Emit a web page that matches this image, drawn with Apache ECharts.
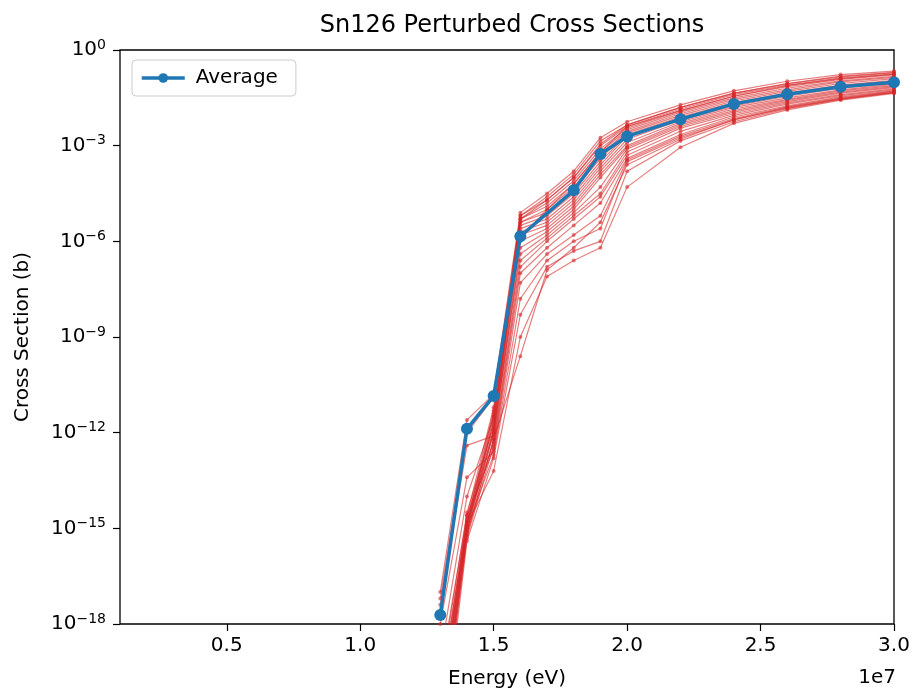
<!DOCTYPE html>
<html>
<head>
<meta charset="utf-8">
<script src="https://cdn.jsdelivr.net/npm/echarts@6/dist/echarts.min.js"></script>
<style>
  html, body { margin: 0; padding: 0; background: #fff; }
  #chart { width: 914px; height: 694px; }
</style>
</head>
<body>
<div id="chart"></div>
<script>
// energies (eV) of every perturbed curve
var energies = [1.3e7, 1.4e7, 1.5e7, 1.6e7, 1.7e7, 1.8e7, 1.9e7, 2.0e7, 2.2e7, 2.4e7, 2.6e7, 2.8e7, 3.0e7];
// log10 of cross section (b) for each perturbed curve
var perturbedLog10 = [
  [-17.0, -11.6, -10.8, -5.1, -4.5, -3.8, -2.75, -2.25, -1.72, -1.28, -0.98, -0.77, -0.66],
  [-17.2, -12.0, -10.9, -5.2, -4.6, -3.9, -2.85, -2.35, -1.80, -1.35, -1.05, -0.82, -0.70],
  [-19.5, -14.6, -11.2, -5.2, -4.7, -4.0, -3.0, -2.40, -1.85, -1.40, -1.10, -0.88, -0.75],
  [-20.0, -14.8, -11.3, -5.3, -4.8, -4.1, -3.1, -2.45, -1.90, -1.45, -1.15, -0.92, -0.78],
  [-20.5, -14.9, -11.4, -5.3, -4.9, -4.2, -3.2, -2.50, -1.95, -1.50, -1.20, -0.97, -0.83],
  [-21.0, -15.0, -11.5, -5.4, -5.0, -4.3, -3.3, -2.55, -2.00, -1.55, -1.25, -1.00, -0.86],
  [-21.5, -15.1, -11.6, -5.4, -5.1, -4.4, -3.4, -2.60, -2.05, -1.60, -1.30, -1.05, -0.90],
  [-20.2, -14.7, -11.7, -5.5, -5.2, -4.5, -3.5, -2.65, -2.10, -1.65, -1.35, -1.10, -0.95],
  [-19.8, -14.5, -11.8, -5.6, -5.3, -4.6, -3.6, -2.70, -2.15, -1.70, -1.40, -1.15, -1.00],
  [-21.2, -15.0, -11.9, -5.7, -5.4, -4.7, -3.7, -2.80, -2.20, -1.75, -1.45, -1.20, -1.05],
  [-20.8, -14.9, -12.0, -5.8, -5.5, -4.8, -3.8, -2.90, -2.25, -1.80, -1.50, -1.25, -1.08],
  [-17.4, -12.4, -12.1, -6.0, -5.6, -4.9, -3.9, -3.00, -2.30, -1.85, -1.55, -1.28, -1.12],
  [-22.0, -15.2, -12.2, -6.2, -5.7, -5.0, -4.0, -3.05, -2.35, -1.90, -1.58, -1.32, -1.15],
  [-21.6, -15.1, -12.0, -6.4, -5.8, -5.1, -4.3, -3.10, -2.40, -1.95, -1.62, -1.35, -1.18],
  [-20.6, -14.8, -12.3, -6.6, -5.9, -5.2, -4.5, -3.20, -2.45, -2.00, -1.66, -1.40, -1.22],
  [-21.8, -15.3, -12.4, -6.8, -6.0, -5.3, -4.6, -3.30, -2.55, -2.05, -1.70, -1.43, -1.25],
  [-20.4, -14.6, -12.5, -7.0, -6.2, -5.5, -4.8, -3.40, -2.65, -2.10, -1.75, -1.47, -1.28],
  [-18.0, -13.4, -12.6, -7.3, -6.4, -5.8, -5.2, -3.45, -2.70, -2.15, -1.78, -1.50, -1.30],
  [-21.3, -15.0, -12.7, -7.8, -6.6, -6.0, -5.6, -3.50, -2.75, -2.20, -1.80, -1.52, -1.32],
  [-22.5, -15.4, -12.8, -8.3, -6.8, -6.3, -6.0, -3.80, -2.85, -2.25, -1.84, -1.55, -1.34],
  [-20.9, -14.9, -13.2, -9.0, -7.1, -6.6, -6.2, -4.30, -3.05, -2.30, -1.88, -1.57, -1.36],
  [-21.4, -15.2, -12.2, -9.6, -6.9, -6.2, -5.4, -3.60, -2.80, -2.18, -1.82, -1.53, -1.33],
  [-19.0, -14.0, -11.5, -5.9, -5.0, -4.2, -3.2, -2.40, -1.90, -1.45, -1.12, -0.90, -0.76],
  [-20.7, -14.8, -11.9, -5.3, -4.7, -4.0, -2.95, -2.35, -1.80, -1.36, -1.06, -0.84, -0.72]
];
// average curve (no point at 1.7e7)
var avgEnergies = [1.3e7, 1.4e7, 1.5e7, 1.6e7, 1.8e7, 1.9e7, 2.0e7, 2.2e7, 2.4e7, 2.6e7, 2.8e7, 3.0e7];
var avgLog10 = [-17.72, -11.88, -10.85, -5.84, -4.40, -3.26, -2.71, -2.17, -1.69, -1.39, -1.15, -1.01];
var xTicks = [0.5e7, 1.0e7, 1.5e7, 2.0e7, 2.5e7, 3.0e7];

var red = 'rgba(214,39,40,0.6)';
var blue = '#1f77b4';
var font = 'DejaVu Sans';

var series = [];
perturbedLog10.forEach(function(row, i) {
  series.push({
    name: 'Perturbed ' + (i + 1), type: 'line',
    data: row.map(function(e, j) { return [energies[j], Math.pow(10, e)]; }),
    symbol: 'circle', symbolSize: 4, showSymbol: true,
    lineStyle: { color: red, width: 1.2 },
    itemStyle: { color: red },
    clip: true, silent: true
  });
});
series.push({
  name: 'Average', type: 'line',
  data: avgLog10.map(function(e, j) { return [avgEnergies[j], Math.pow(10, e)]; }),
  symbol: 'circle', symbolSize: 12,
  lineStyle: { color: blue, width: 3.5 },
  itemStyle: { color: blue },
  clip: true, z: 5
});

var chart = echarts.init(document.getElementById('chart'), null, { renderer: 'canvas' });
chart.setOption({
  animation: false,
  textStyle: { fontFamily: font, color: '#000' },
  title: {
    text: 'Sn126 Perturbed Cross Sections', left: 507, textAlign: 'center', top: 9,
    textStyle: { fontFamily: font, fontSize: 24, fontWeight: 'normal', color: '#000' }
  },
  legend: {
    data: ['Average'], left: 132, top: 60,
    orient: 'vertical', padding: [8, 18, 8, 8],
    itemWidth: 43, itemHeight: 12, itemGap: 16,
    lineStyle: { width: 3.5 },
    borderColor: '#cccccc', borderWidth: 1, borderRadius: 4,
    backgroundColor: 'rgba(255,255,255,0.8)',
    textStyle: { fontFamily: font, fontSize: 20, color: '#000', padding: [0, 0, 0, 6] }
  },
  grid: {
    left: 120, right: 20, top: 50, bottom: 69,
    show: true, borderColor: '#000', borderWidth: 1.3, backgroundColor: 'transparent'
  },
  xAxis: {
    type: 'value', min: 1e6, max: 3e7,
    name: 'Energy (eV)', nameLocation: 'middle', nameGap: 45,
    nameTextStyle: { fontFamily: font, fontSize: 20, color: '#000' },
    axisLine: { show: false },
    splitLine: { show: false },
    axisTick: { show: true, customValues: xTicks, length: 7, lineStyle: { color: '#000', width: 1.2 } },
    axisLabel: {
      customValues: xTicks, margin: 12, fontFamily: font, fontSize: 20, color: '#000',
      formatter: function(v) { return (v / 1e7).toFixed(1); }
    }
  },
  yAxis: {
    type: 'log', logBase: 10, min: 1e-18, max: 1, interval: 3,
    name: 'Cross Section (b)', nameLocation: 'middle', nameGap: 87,
    nameTextStyle: { fontFamily: font, fontSize: 20, color: '#000' },
    axisLine: { show: false },
    splitLine: { show: false },
    minorTick: { show: false },
    axisTick: { show: true, length: 7, lineStyle: { color: '#000', width: 1.2 } },
    axisLabel: {
      margin: 14, color: '#000',
      formatter: function(v) {
        var e = Math.round(Math.log10(v));
        return '{b|10}{s|' + (e < 0 ? '\u2212' + (-e) : e) + '}';
      },
      rich: {
        b: { fontFamily: font, fontSize: 20, color: '#000', lineHeight: 24 },
        s: { fontFamily: font, fontSize: 14, color: '#000', lineHeight: 24, verticalAlign: 'top' }
      }
    }
  },
  graphic: [{
    type: 'text', right: 18, top: 668,
    style: { text: '1e7', font: '20px "DejaVu Sans"', fill: '#000' }
  }],
  series: series
});
</script>
</body>
</html>
